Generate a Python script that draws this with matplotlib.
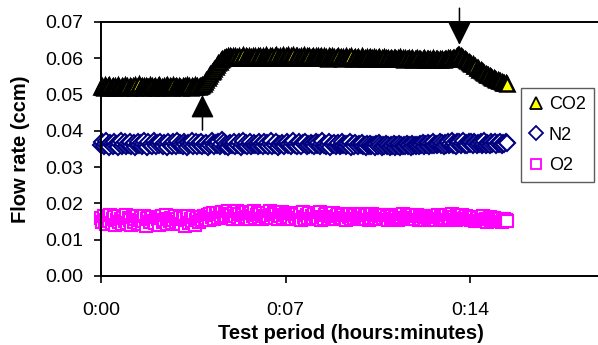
import matplotlib
matplotlib.use("Agg")
import matplotlib.pyplot as plt

plt.rcParams['font.family'] = ['Liberation Sans', 'DejaVu Sans']

time_min = [
    0.00, 0.05, 0.10, 0.15, 0.20, 0.25, 0.30, 0.35, 0.40, 0.45, 0.50, 0.55, 0.60, 0.65, 0.70, 0.75, 0.80, 0.85, 0.90, 0.95,
    1.00, 1.05, 1.10, 1.15, 1.20, 1.25, 1.30, 1.35, 1.40, 1.45, 1.50, 1.55, 1.60, 1.65, 1.70, 1.75, 1.80, 1.85, 1.90, 1.95,
    2.00, 2.05, 2.10, 2.15, 2.20, 2.25, 2.30, 2.35, 2.40, 2.45, 2.50, 2.55, 2.60, 2.65, 2.70, 2.75, 2.80, 2.85, 2.90, 2.95,
    3.00, 3.05, 3.10, 3.15, 3.20, 3.25, 3.30, 3.35, 3.40, 3.45, 3.50, 3.55, 3.60, 3.65, 3.70, 3.75, 3.80, 3.85, 3.90, 3.95,
    4.00, 4.05, 4.10, 4.15, 4.20, 4.25, 4.30, 4.35, 4.40, 4.45, 4.50, 4.55, 4.60, 4.65, 4.70, 4.75, 4.80, 4.85, 4.90, 4.95,
    5.00, 5.05, 5.10, 5.15, 5.20, 5.25, 5.30, 5.35, 5.40, 5.45, 5.50, 5.55, 5.60, 5.65, 5.70, 5.75, 5.80, 5.85, 5.90, 5.95,
    6.00, 6.05, 6.10, 6.15, 6.20, 6.25, 6.30, 6.35, 6.40, 6.45, 6.50, 6.55, 6.60, 6.65, 6.70, 6.75, 6.80, 6.85, 6.90, 6.95,
    7.00, 7.05, 7.10, 7.15, 7.20, 7.25, 7.30, 7.35, 7.40, 7.45, 7.50, 7.55, 7.60, 7.65, 7.70, 7.75, 7.80, 7.85, 7.90, 7.95,
    8.00, 8.05, 8.10, 8.15, 8.20, 8.25, 8.30, 8.35, 8.40, 8.45, 8.50, 8.55, 8.60, 8.65, 8.70, 8.75, 8.80, 8.85, 8.90, 8.95,
    9.00, 9.05, 9.10, 9.15, 9.20, 9.25, 9.30, 9.35, 9.40, 9.45, 9.50, 9.55, 9.60, 9.65, 9.70, 9.75, 9.80, 9.85, 9.90, 9.95,
    10.00, 10.05, 10.10, 10.15, 10.20, 10.25, 10.30, 10.35, 10.40, 10.45, 10.50, 10.55, 10.60, 10.65, 10.70, 10.75, 10.80, 10.85, 10.90, 10.95,
    11.00, 11.05, 11.10, 11.15, 11.20, 11.25, 11.30, 11.35, 11.40, 11.45, 11.50, 11.55, 11.60, 11.65, 11.70, 11.75, 11.80, 11.85, 11.90, 11.95,
    12.00, 12.05, 12.10, 12.15, 12.20, 12.25, 12.30, 12.35, 12.40, 12.45, 12.50, 12.55, 12.60, 12.65, 12.70, 12.75, 12.80, 12.85, 12.90, 12.95,
    13.00, 13.05, 13.10, 13.15, 13.20, 13.25, 13.30, 13.35, 13.40, 13.45, 13.50, 13.55, 13.60, 13.65, 13.70, 13.75, 13.80, 13.85, 13.90, 13.95,
    14.00, 14.05, 14.10, 14.15, 14.20, 14.25, 14.30, 14.35, 14.40, 14.45, 14.50, 14.55, 14.60, 14.65, 14.70, 14.75, 14.80, 14.85, 14.90, 14.95,
    15.00, 15.05, 15.10, 15.15, 15.20, 15.25, 15.30, 15.35, 15.40]

co2 = [
    0.0520, 0.0524, 0.0518, 0.0526, 0.0521, 0.0523, 0.0527, 0.0519, 0.0522, 0.0525, 0.0517, 0.0523, 0.0520, 0.0526, 0.0522, 0.0519, 0.0524, 0.0521, 0.0527, 0.0520,
    0.0523, 0.0518, 0.0525, 0.0521, 0.0524, 0.0519, 0.0526, 0.0522, 0.0520, 0.0528, 0.0521, 0.0524, 0.0518, 0.0523, 0.0525, 0.0520, 0.0522, 0.0527, 0.0519, 0.0524,
    0.0521, 0.0525, 0.0519, 0.0523, 0.0526, 0.0520, 0.0522, 0.0518, 0.0525, 0.0523, 0.0527, 0.0520, 0.0524, 0.0521, 0.0519, 0.0526, 0.0522, 0.0524, 0.0520, 0.0525,
    0.0522, 0.0519, 0.0525, 0.0521, 0.0524, 0.0527, 0.0520, 0.0523, 0.0518, 0.0525, 0.0522, 0.0526, 0.0520, 0.0524, 0.0521, 0.0525, 0.0523, 0.0526, 0.0530, 0.0535,
    0.0540, 0.0545, 0.0551, 0.0556, 0.0561, 0.0566, 0.0571, 0.0576, 0.0581, 0.0586, 0.0590, 0.0594, 0.0597, 0.0600, 0.0602, 0.0603, 0.0605, 0.0602, 0.0606, 0.0603,
    0.0605, 0.0601, 0.0607, 0.0603, 0.0600, 0.0606, 0.0602, 0.0604, 0.0608, 0.0601, 0.0605, 0.0603, 0.0606, 0.0600, 0.0604, 0.0607, 0.0602, 0.0605, 0.0601, 0.0606,
    0.0603, 0.0607, 0.0601, 0.0605, 0.0602, 0.0608, 0.0604, 0.0600, 0.0606, 0.0603, 0.0607, 0.0602, 0.0605, 0.0609, 0.0603, 0.0601, 0.0606, 0.0604, 0.0608, 0.0602,
    0.0605, 0.0603, 0.0608, 0.0601, 0.0606, 0.0604, 0.0609, 0.0602, 0.0605, 0.0607, 0.0603, 0.0600, 0.0606, 0.0604, 0.0608, 0.0602, 0.0605, 0.0603, 0.0607, 0.0601,
    0.0604, 0.0606, 0.0602, 0.0605, 0.0600, 0.0607, 0.0603, 0.0605, 0.0601, 0.0606, 0.0602, 0.0604, 0.0599, 0.0605, 0.0603, 0.0606, 0.0601, 0.0604, 0.0600, 0.0603,
    0.0605, 0.0601, 0.0603, 0.0599, 0.0604, 0.0602, 0.0606, 0.0600, 0.0603, 0.0601, 0.0605, 0.0599, 0.0602, 0.0604, 0.0600, 0.0603, 0.0598, 0.0602, 0.0605, 0.0600,
    0.0602, 0.0599, 0.0603, 0.0600, 0.0604, 0.0598, 0.0601, 0.0603, 0.0599, 0.0602, 0.0600, 0.0604, 0.0598, 0.0601, 0.0599, 0.0603, 0.0600, 0.0597, 0.0602, 0.0599,
    0.0601, 0.0598, 0.0602, 0.0600, 0.0597, 0.0601, 0.0599, 0.0603, 0.0598, 0.0600, 0.0596, 0.0601, 0.0599, 0.0597, 0.0600, 0.0598, 0.0602, 0.0596, 0.0599, 0.0597,
    0.0600, 0.0597, 0.0599, 0.0595, 0.0598, 0.0600, 0.0596, 0.0599, 0.0597, 0.0594, 0.0598, 0.0596, 0.0600, 0.0595, 0.0597, 0.0599, 0.0596, 0.0598, 0.0594, 0.0597,
    0.0596, 0.0599, 0.0597, 0.0600, 0.0598, 0.0601, 0.0599, 0.0602, 0.0601, 0.0604, 0.0605, 0.0608, 0.0610, 0.0607, 0.0604, 0.0600, 0.0597, 0.0594, 0.0592, 0.0589,
    0.0588, 0.0584, 0.0583, 0.0579, 0.0578, 0.0574, 0.0573, 0.0569, 0.0568, 0.0564, 0.0563, 0.0559, 0.0558, 0.0554, 0.0553, 0.0550, 0.0549, 0.0546, 0.0545, 0.0543,
    0.0541, 0.0540, 0.0537, 0.0537, 0.0535, 0.0533, 0.0533, 0.0531, 0.0530]

n2 = [
    0.0362, 0.0368, 0.0357, 0.0365, 0.0371, 0.0360, 0.0355, 0.0366, 0.0363, 0.0358, 0.0369, 0.0361, 0.0364, 0.0356, 0.0367, 0.0372, 0.0359, 0.0363, 0.0368, 0.0357,
    0.0365, 0.0361, 0.0370, 0.0358, 0.0364, 0.0367, 0.0355, 0.0362, 0.0369, 0.0360, 0.0366, 0.0358, 0.0363, 0.0371, 0.0361, 0.0356, 0.0368, 0.0362, 0.0365, 0.0359,
    0.0371, 0.0363, 0.0357, 0.0366, 0.0360, 0.0369, 0.0362, 0.0358, 0.0367, 0.0364, 0.0356, 0.0370, 0.0361, 0.0365, 0.0359, 0.0368, 0.0363, 0.0357, 0.0372, 0.0360,
    0.0366, 0.0362, 0.0358, 0.0369, 0.0364, 0.0356, 0.0367, 0.0361, 0.0365, 0.0373, 0.0359, 0.0363, 0.0368, 0.0357, 0.0366, 0.0361, 0.0370, 0.0358, 0.0364, 0.0362,
    0.0367, 0.0355, 0.0365, 0.0360, 0.0371, 0.0363, 0.0358, 0.0366, 0.0361, 0.0369, 0.0357, 0.0364, 0.0374, 0.0368, 0.0359, 0.0365, 0.0356, 0.0363, 0.0367, 0.0360,
    0.0362, 0.0370, 0.0358, 0.0365, 0.0361, 0.0368, 0.0356, 0.0363, 0.0372, 0.0360, 0.0366, 0.0359, 0.0364, 0.0369, 0.0357, 0.0362, 0.0367, 0.0360, 0.0365, 0.0358,
    0.0368, 0.0361, 0.0364, 0.0357, 0.0370, 0.0362, 0.0366, 0.0359, 0.0363, 0.0371, 0.0358, 0.0365, 0.0361, 0.0368, 0.0356, 0.0364, 0.0360, 0.0367, 0.0362, 0.0357,
    0.0365, 0.0369, 0.0360, 0.0363, 0.0358, 0.0366, 0.0372, 0.0361, 0.0364, 0.0357, 0.0368, 0.0362, 0.0359, 0.0366, 0.0363, 0.0370, 0.0358, 0.0365, 0.0361, 0.0367,
    0.0360, 0.0364, 0.0357, 0.0369, 0.0362, 0.0366, 0.0359, 0.0363, 0.0371, 0.0360, 0.0365, 0.0358, 0.0362, 0.0368, 0.0356, 0.0364, 0.0361, 0.0367, 0.0359, 0.0363,
    0.0366, 0.0358, 0.0362, 0.0369, 0.0360, 0.0364, 0.0357, 0.0365, 0.0361, 0.0368, 0.0356, 0.0363, 0.0359, 0.0366, 0.0362, 0.0357, 0.0364, 0.0360, 0.0367, 0.0358,
    0.0361, 0.0356, 0.0363, 0.0359, 0.0365, 0.0357, 0.0362, 0.0360, 0.0355, 0.0363, 0.0358, 0.0366, 0.0360, 0.0356, 0.0362, 0.0359, 0.0364, 0.0357, 0.0361, 0.0355,
    0.0362, 0.0358, 0.0364, 0.0356, 0.0361, 0.0359, 0.0363, 0.0355, 0.0360, 0.0358, 0.0362, 0.0357, 0.0364, 0.0359, 0.0361, 0.0356, 0.0363, 0.0358, 0.0360, 0.0357,
    0.0362, 0.0359, 0.0364, 0.0360, 0.0366, 0.0358, 0.0363, 0.0361, 0.0367, 0.0359, 0.0364, 0.0362, 0.0368, 0.0360, 0.0365, 0.0361, 0.0363, 0.0369, 0.0360, 0.0366,
    0.0358, 0.0367, 0.0362, 0.0369, 0.0360, 0.0364, 0.0371, 0.0362, 0.0366, 0.0359, 0.0368, 0.0363, 0.0370, 0.0361, 0.0366, 0.0372, 0.0362, 0.0367, 0.0360, 0.0369,
    0.0364, 0.0368, 0.0362, 0.0370, 0.0366, 0.0361, 0.0367, 0.0363, 0.0369, 0.0360, 0.0365, 0.0371, 0.0362, 0.0367, 0.0364, 0.0360, 0.0368, 0.0363, 0.0366, 0.0370,
    0.0362, 0.0367, 0.0364, 0.0369, 0.0361, 0.0366, 0.0363, 0.0368, 0.0366]

o2 = [
    0.0160, 0.0148, 0.0165, 0.0153, 0.0142, 0.0162, 0.0151, 0.0168, 0.0145, 0.0157, 0.0163, 0.0140, 0.0155, 0.0166, 0.0149, 0.0158, 0.0144, 0.0161, 0.0152, 0.0167,
    0.0146, 0.0159, 0.0154, 0.0141, 0.0163, 0.0150, 0.0157, 0.0166, 0.0147, 0.0155, 0.0161, 0.0143, 0.0152, 0.0164, 0.0139, 0.0156, 0.0160, 0.0148, 0.0158, 0.0163,
    0.0151, 0.0145, 0.0162, 0.0156, 0.0141, 0.0159, 0.0164, 0.0149, 0.0154, 0.0167, 0.0143, 0.0158, 0.0152, 0.0161, 0.0146, 0.0155, 0.0165, 0.0148, 0.0157, 0.0150,
    0.0162, 0.0144, 0.0156, 0.0160, 0.0138, 0.0153, 0.0165, 0.0147, 0.0158, 0.0152, 0.0163, 0.0141, 0.0155, 0.0160, 0.0149, 0.0157, 0.0162, 0.0153, 0.0166, 0.0158,
    0.0160, 0.0168, 0.0155, 0.0170, 0.0162, 0.0173, 0.0158, 0.0169, 0.0175, 0.0161, 0.0172, 0.0164, 0.0177, 0.0160, 0.0170, 0.0166, 0.0178, 0.0162, 0.0171, 0.0167,
    0.0158, 0.0175, 0.0166, 0.0179, 0.0162, 0.0171, 0.0157, 0.0174, 0.0168, 0.0160, 0.0176, 0.0163, 0.0170, 0.0156, 0.0173, 0.0165, 0.0178, 0.0160, 0.0169, 0.0174,
    0.0162, 0.0171, 0.0157, 0.0175, 0.0166, 0.0160, 0.0173, 0.0164, 0.0178, 0.0159, 0.0168, 0.0174, 0.0161, 0.0170, 0.0156, 0.0172, 0.0165, 0.0176, 0.0160, 0.0167,
    0.0173, 0.0158, 0.0169, 0.0163, 0.0175, 0.0157, 0.0170, 0.0164, 0.0159, 0.0172, 0.0161, 0.0168, 0.0155, 0.0177, 0.0163, 0.0158, 0.0169, 0.0160, 0.0174, 0.0157,
    0.0166, 0.0159, 0.0170, 0.0156, 0.0164, 0.0161, 0.0176, 0.0155, 0.0163, 0.0158, 0.0167, 0.0171, 0.0162, 0.0157, 0.0165, 0.0160, 0.0173, 0.0163, 0.0158, 0.0166,
    0.0170, 0.0156, 0.0164, 0.0159, 0.0168, 0.0161, 0.0155, 0.0167, 0.0162, 0.0172, 0.0158, 0.0165, 0.0160, 0.0169, 0.0157, 0.0163, 0.0166, 0.0159, 0.0171, 0.0161,
    0.0165, 0.0158, 0.0168, 0.0155, 0.0163, 0.0160, 0.0170, 0.0157, 0.0164, 0.0159, 0.0167, 0.0162, 0.0156, 0.0166, 0.0161, 0.0169, 0.0158, 0.0163, 0.0155, 0.0167,
    0.0160, 0.0164, 0.0157, 0.0168, 0.0162, 0.0155, 0.0165, 0.0159, 0.0163, 0.0170, 0.0158, 0.0161, 0.0166, 0.0156, 0.0163, 0.0159, 0.0167, 0.0161, 0.0157, 0.0164,
    0.0167, 0.0154, 0.0162, 0.0157, 0.0165, 0.0160, 0.0153, 0.0163, 0.0158, 0.0166, 0.0161, 0.0156, 0.0164, 0.0159, 0.0155, 0.0162, 0.0168, 0.0157, 0.0163, 0.0160,
    0.0156, 0.0161, 0.0168, 0.0155, 0.0164, 0.0159, 0.0170, 0.0157, 0.0162, 0.0154, 0.0166, 0.0160, 0.0158, 0.0163, 0.0169, 0.0156, 0.0161, 0.0165, 0.0158, 0.0162,
    0.0160, 0.0153, 0.0158, 0.0163, 0.0151, 0.0157, 0.0161, 0.0152, 0.0156, 0.0159, 0.0166, 0.0154, 0.0158, 0.0150, 0.0157, 0.0162, 0.0153, 0.0156, 0.0160, 0.0152,
    0.0154, 0.0158, 0.0153, 0.0156, 0.0150, 0.0155, 0.0157, 0.0153, 0.0152]

x_ticks = [0, 7, 14]
x_tick_labels = ["0:00", "0:07", "0:14"]
y_ticks = [0.00, 0.01, 0.02, 0.03, 0.04, 0.05, 0.06, 0.07]

# arrows: (x in minutes, tail y, tip y)
arrow_up = (3.85, 0.0402, 0.0499)
arrow_down = (13.6, 0.0738, 0.0637)

fig = plt.figure(figsize=(5.98, 3.45), dpi=100)
ax = fig.add_axes([101 / 598, 1 - 276 / 345, (600 - 101) / 598, (276 - 22) / 345])

ax.plot(time_min, co2, linestyle='none', marker='^', markersize=10,
        markerfacecolor='#ffff00', markeredgecolor='black', markeredgewidth=1.8,
        label='CO2', clip_on=False)
ax.plot(time_min, n2, linestyle='none', marker='D', markersize=8,
        markerfacecolor='white', markeredgecolor='#000080', markeredgewidth=1.5,
        label='N2', clip_on=False)
ax.plot(time_min, o2, linestyle='none', marker='s', markersize=8.5,
        markerfacecolor='white', markeredgecolor='#ff00ff', markeredgewidth=1.5,
        label='O2', clip_on=False)

ax.set_xlim(0, 7 * (600 - 101) / 184.5)
ax.set_ylim(0, 0.07)
ax.set_xticks(x_ticks)
ax.set_xticklabels(x_tick_labels)
ax.set_yticks(y_ticks)
ax.set_yticklabels([f"{v:.2f}" for v in y_ticks])
ax.tick_params(axis='both', direction='out', length=5, width=1.2, labelsize=14, colors='black')
ax.tick_params(axis='x', pad=14)
ax.tick_params(axis='y', pad=8)
for s in ['left', 'bottom', 'top', 'right']:
    ax.spines[s].set_linewidth(1.4)

ax.set_xlabel("Test period (hours:minutes)", fontsize=14.5, fontweight='bold', labelpad=3)
ax.set_ylabel("Flow rate (ccm)", fontsize=14.5, fontweight='bold', labelpad=11)

for (xa, ytail, ytip) in [arrow_up, arrow_down]:
    ax.annotate("", xy=(xa, ytip), xytext=(xa, ytail),
                arrowprops=dict(arrowstyle='-|>,head_length=1.44,head_width=0.72',
                                mutation_scale=10,
                                color='black', lw=1.1, shrinkA=0, shrinkB=0),
                annotation_clip=False)

leg = fig.legend(loc='upper left', bbox_to_anchor=(521 / 598, 1 - 88 / 345),
                 fontsize=13, frameon=True, fancybox=False, edgecolor='#333333',
                 handlelength=0.8, handletextpad=0.3, borderpad=0.45, labelspacing=0.75,
                 borderaxespad=0, markerscale=0.9)
leg.get_frame().set_linewidth(1.0)
for h in leg.legend_handles:
    h.set_markeredgewidth(1.3)

fig.savefig("out.png", dpi=100)
